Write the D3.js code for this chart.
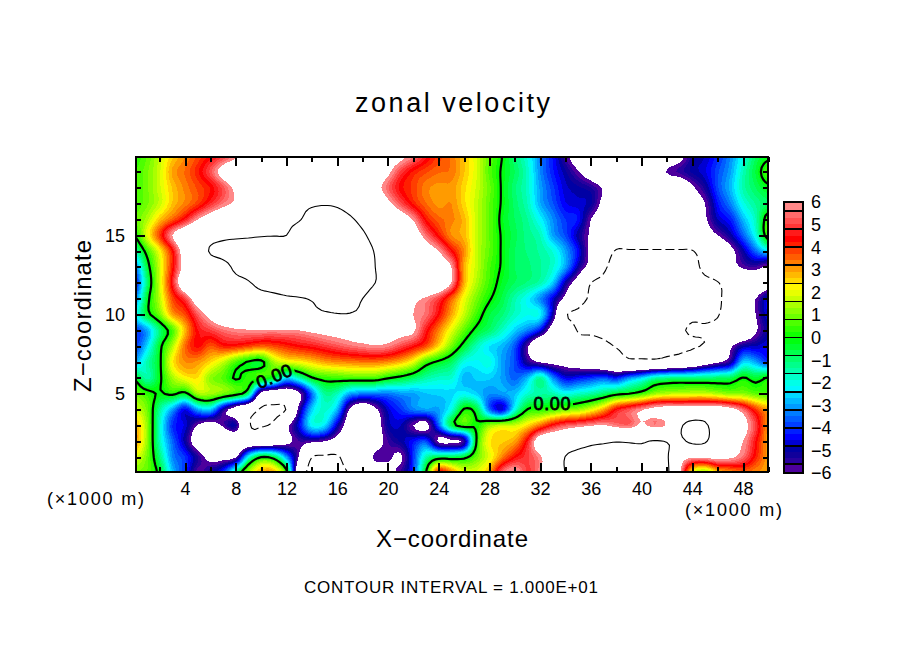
<!DOCTYPE html>
<html><head><meta charset="utf-8">
<script src="https://cdn.jsdelivr.net/npm/d3@7/dist/d3.min.js"></script>
<style>html,body{margin:0;background:#fff}svg{display:block}text{font-family:"Liberation Sans";fill:#000}</style>
</head><body><svg id="c" width="904" height="654"></svg>
<script>
// zonal velocity: one row per Z (x = 0..50 in steps of 1)
const u_z20=[.3,.8,1.7,2.6,3.2,3.8,4.4,5,5.8,6.6,7.2,7.5,7.5,7.5,7.6,7.6,7.6,7.5,7.5,7.4,7,6.4,5.6,4.6,3.9,3.4,2.7,1.9,.8,0,-1,-1.9,-3.3,-4.3,-5.6,-7,-8,-8,-8,-8,-8,-8,-7.5,-6.5,-5.2,-4.8,-4.1,-3.2,-2,-.8,-.2];
const u_z19=[.5,1,1.8,3,3.5,4.2,5.2,6.6,7.5,8,8,8,8,8,8,8,8,8,8,7.5,6.3,5,4.2,3.8,3.5,3.4,2.7,1.9,.7,-.1,-.8,-1.7,-3.2,-4.2,-5,-5.9,-7,-8,-8,-8,-8,-7.5,-5.9,-5.5,-5,-4.6,-3.8,-3,-1.6,-.5,.6];
const u_z18=[.5,1,1.8,2.7,3.3,3.8,4.3,5.2,6.4,8,8.5,8.6,8.7,8.8,9,9.3,9,8.7,8,6.6,5.4,4.4,3.9,3.3,3.1,3.1,2.5,1.8,.9,-.1,-1,-1.7,-3,-3.9,-4.7,-5,-5.3,-6.2,-8,-8,-8,-8,-8,-7.5,-6.2,-5.2,-3.8,-2.8,-1.5,-.8,-.2];
const u_z17=[.5,1,1.7,2.7,3.3,3.9,4.8,5.6,6.3,8,8.6,9,9.3,9.6,9.8,9.9,9.8,9.4,8.8,8,6.4,5.2,4.2,3.5,3.1,3.2,2.5,1.7,.8,-.1,-.9,-1.6,-2.9,-3.7,-4.5,-4.7,-5,-6.5,-8,-8,-8,-8,-8,-8,-7,-6,-4.3,-3.3,-2,-1.3,-.8];
const u_z16=[.8,1.5,2.7,3.6,4.6,6,7,7.8,8.5,9,9.2,9.4,9.7,9.9,10.6,10.8,10.6,10.2,9.6,9,8,7,5.9,4.3,3.6,3.3,2.8,1.7,.8,-.2,-.8,-1.3,-2.2,-3.2,-4,-4.3,-6,-7,-8,-8,-8,-8,-8,-8,-7,-6.2,-4.8,-4.2,-2.8,-1.6,.6];
const u_z15=[0,2,3.9,6,7.5,8.3,9,9.5,9.7,9.8,9.9,9.95,10,10.8,11.2,11.4,11.2,10.8,10.2,9.5,8.8,8,7,5.5,4.3,3.2,2.8,1.7,.8,-.1,-.7,-1.2,-1.6,-3,-3.8,-5,-6.2,-7,-8,-8,-8,-8,-8,-8,-8,-7,-6,-5,-3.6,-2,.6];
const u_z14=[-1.5,.4,2.2,4.3,7,8.5,10.2,10.6,10.8,10.9,11,11,11,11.2,11.4,11.5,11.4,11.2,10.6,9.9,9,8.5,8,7,6,4.5,3.2,1.7,.8,-.1,-.8,-1.1,-1.4,-1.9,-3,-4.4,-6.5,-8.5,-10.2,-10.2,-10.2,-10.2,-10.2,-10.2,-10.1,-9,-8,-6.5,-5,-3.5,-2.4];
const u_z13=[-3.5,-.5,1.8,4.2,6.6,7.8,8.6,9.4,10.3,10.6,10.8,10.9,11,11.2,11.4,11.5,11.5,11.3,10.8,10,9.3,9,8.6,8.2,7.2,6,2.9,1.7,.6,-.1,-.8,-1,-1.3,-1.8,-3,-5,-6.8,-9.5,-10.8,-11,-11,-11,-11,-11,-10.6,-9.5,-8.5,-6.8,-5.8,-5.6,-6.3];
const u_z12=[-4.5,-1,1.8,4.6,7.5,8.5,9,9.4,9.6,9.9,10.4,10.6,10.8,11,11.2,11.3,11.3,11.1,10.6,10,9.4,9.2,8.8,8.4,7.6,6,2.9,1.5,.5,-.3,-.8,-1.1,-1.5,-2.6,-5,-7,-10,-10.6,-11,-11.2,-11.2,-11.2,-11,-10.8,-10.6,-10.4,-10.1,-9,-8,-7.5,-7];
const u_z11=[-3.5,-.4,1.6,3.8,5,7,8,8.6,9,9.2,9.4,9.6,9.8,9.9,10.1,10.5,10.6,10.4,10,9.3,8.7,8,6.5,5.8,5,3.6,2.1,1,.1,-.6,-1.5,-2.2,-3.2,-4.6,-6.5,-9,-10.3,-10.8,-11.2,-11.4,-11.4,-11.4,-11.2,-11,-10.8,-10.5,-10.3,-9,-7,-6,-4.5];
const u_z10=[-2.3,-.4,1,3,3.8,5.3,6.5,7.5,7.8,8,8.2,8.5,8.8,9.1,9.4,9.7,9.9,9.9,9.5,9,8.4,7.5,6,5.5,4.4,3,1.7,.5,-.5,-1,-1.7,-2.1,-2.2,-5,-9.7,-10.4,-10.6,-10.8,-11,-11,-11,-10.9,-10.7,-10.6,-10.3,-10.3,-10.1,-9,-7.5,-6,-4.5];
const u_z9=[-4,-3,-1,.6,2.8,4.5,5,5.5,5.8,5.9,5.9,5.9,5.9,6,6.3,6.6,6.8,7,7.2,7.2,7,6.6,6.2,4.6,3.3,2,.8,-.3,-.9,-1.7,-2.6,-3.3,-4.4,-7,-8,-10.2,-10.4,-10.5,-10.6,-10.6,-10.6,-10.5,-10.4,-10.2,-9.8,-9.8,-9.5,-9,-8,-6.2,-5];
const u_z8=[-4,-2.5,-.3,1.5,3.5,4.4,3.7,4.2,4.2,3.9,3.6,3.8,4.1,4.4,4.6,4.9,5.2,5.5,5.7,5.9,5.7,5.1,4.5,3.8,2.5,1,-.4,-1.6,-2.4,-2.8,-3.7,-5.8,-8,-8,-8.2,-8.5,-8.8,-9.5,-10.1,-10.5,-10.6,-10.6,-10.5,-10.4,-10.2,-9.8,-9,-6.3,-5,-4.8,-4.5];
const u_z7=[-3,-1.5,-.2,2.3,3.2,3.1,2.5,1.7,.6,-.1,-.3,1.4,2,2.2,2.6,3,3.2,3.3,3.4,3.4,3.2,2.8,2,.5,-.2,-.8,-2,-2.2,-2,-3,-3.8,-5.3,-6.1,-6.4,-6.6,-7,-7.5,-8,-8.6,-9.4,-9.4,-9.4,-9,-8.6,-8,-7,-6.2,-5.3,-2.6,-3,-4];
const u_z6=[-.2,-1.5,-.2,1.4,2.2,2.4,1.2,.7,-.1,.4,.4,-.3,-2.5,-1.5,-.1,.4,.5,.6,.6,.6,.1,-.3,-.8,-1.4,-1.7,-1.8,-2.8,-2.6,-2.6,-3,-3.6,-2.8,-1.3,-3.2,-4.5,-4.3,-4,-3.7,-4.2,-3.2,-2.5,-1.5,-1.2,-1.1,-1.1,-1,-.9,-.7,.05,-.4,.1];
const u_z5=[1,.4,-.1,.2,-.3,1.4,1.4,1,.4,-1,-6.6,-7.5,-7.5,-6.3,-3.5,-1.3,-1.6,-3,-3.3,-3.4,-3.4,-3.1,-3,-2.7,-2.6,-2.5,-2.2,-2.6,-3.2,-3,-2.7,-1.8,-1.4,-1.5,-2,-1.7,-1.4,-.9,-.3,0,.5,1.3,1.6,1.7,1.8,1.8,1.5,1.2,1.2,.8,.6];
const u_z4=[1.8,1,-1.3,-3,-4.5,-3,-2.6,-5.2,-7,-8.5,-10.3,-10.5,-9.9,-5.5,-2.6,-1.8,-2.8,-6.2,-7.5,-6.3,-4.7,-4,-3.3,-3,-3,-2,.1,-.5,-3.5,-4.6,-2,.05,.3,.6,1,1.3,2,3,4.5,5.2,5.9,6.5,6.8,7,7.2,7.2,7,6.5,5.5,4,3];
const u_z3=[3,1.3,-1.7,-4,-4.6,-6.1,-6.8,-5.8,-5,-9.7,-10.1,-9.5,-6.5,-4.5,-2.2,-2.4,-4.8,-7,-8,-7,-5,-4.8,-6,-6.5,-3.6,-.6,.5,.1,1.3,1.8,1.8,2.5,3.5,4.6,5.3,5.6,5.9,6.1,5.6,5.4,6.2,5.6,6.2,9.5,10.8,10.5,8,7,6.5,5,3];
const u_z2=[3.2,1.3,-1.6,-3.5,-5,-7,-8,-8.2,-8,-8,-8,-7.6,-6.5,-5.6,-5.7,-6,-6.8,-7.5,-7.8,-6.8,-5.6,-5,-4.3,-3.8,-6.2,-6.3,-5.5,.1,2.3,2.6,3,4.6,7,7.5,8,8.8,9.4,9.7,9.9,9.8,9.7,10.2,9.9,9.5,10.5,10.3,8,6.6,6,4.5,3];
const u_z1=[2,1,-1,-3.2,-4,-5.3,-6.5,-6.5,-6.1,-2,0,-.5,-3,-6.2,-10,-10.4,-10.4,-8,-7,-5.8,-5.8,-6.2,-4,-1.5,-.6,-.6,-.3,.9,2,3.3,4.4,5,5.8,7.5,10.1,10.8,11,11,11,11,11.1,11.2,10.3,7,6.2,6.3,6.5,6.2,5.5,4.2,3];
const u_z0=[1,.8,-.3,-2.7,-4,-5.8,-5,-4,-1,1.5,3,3,.5,-8,-10.8,-11,-10.8,-9.8,-7.5,-7,-6.5,-5.5,-4,0,4.5,3.5,2,2,3,5.5,6.2,5,5.8,8,10.1,11,11.5,12,12,12,12,11.5,10.5,6.4,2,1,2.5,3,3.5,3.2,3];
const rows=[u_z20,u_z19,u_z18,u_z17,u_z16,u_z15,u_z14,u_z13,u_z12,u_z11,u_z10,u_z9,u_z8,u_z7,u_z6,u_z5,u_z4,u_z3,u_z2,u_z1,u_z0];

const xMajor=[4,8,12,16,20,24,28,32,36,40,44,48];
const xMinor=[2,6,10,14,18,22,26,30,34,38,42,46,50];
const zMajor=[5,10,15];
const zMinor=[1,2,3,4,6,7,8,9,11,12,13,14,16,17,18,19];
const barTicks=[6,5,4,3,2,1,0,-1,-2,-3,-4,-5,-6];
const barSeparators=[5.6,4.8,4,3.2,2.4,1.6,.8,0,-.8,-1.6,-2.4,-3.2,-4,-4.8,-5.6];
const stopValues=[-6,-5.6,-5,-4.4,-2.2,0,2.2,4.4,5.6,6];
const stopColors=["#660099","#3300a0","#000099","#0000ff","#00ffff","#00ff00","#ffff00","#ff0000","#ff7777","#ff9999"];
const bandEdges=[-6,...d3.range(0,43).map(i=>-5.6+i*0.8/3),6];

const W={l:136,r:768,t:157,b:472};
const xS=d3.scaleLinear().domain([0,50]).range([134.3,768.4]);
const yS=d3.scaleLinear().domain([0,20]).range([473,156]);
const colorOf=d3.scaleLinear().domain(stopValues).range(stopColors).interpolate(d3.interpolateRgb);
const svg=d3.select("#c");

// Catmull-Rom refinement so that the bands are drawn smoothly
const k=4,nx=50*k+1,nz=20*k+1;
function cr(a,b,c,d,t){return .5*((2*b)+(-a+c)*t+(2*a-5*b+4*c-d)*t*t+(-a+3*b-3*c+d)*t*t*t);}
const at=(i,j)=>rows[Math.max(0,Math.min(20,j))][Math.max(0,Math.min(50,i))];
const field=new Float64Array(nx*nz);
for(let r=0;r<nz;r++)for(let c=0;c<nx;c++){
  const j=Math.min(19,Math.floor(r/k)),tz=r/k-j,i=Math.min(49,Math.floor(c/k)),tx=c/k-i;
  const col=[-1,0,1,2].map(m=>cr(at(i-1,j+m),at(i,j+m),at(i+1,j+m),at(i+2,j+m),tx));
  field[r*nx+c]=cr(col[0],col[1],col[2],col[3],tz);
}
const contours=d3.contours().size([nx,nz]).smooth(true);
const path=d3.geoPath(d3.geoTransform({point(c,r){this.stream.point(xS((c-.5)/k),yS(20-(r-.5)/k));}}));

const defs=svg.append("defs");
defs.append("clipPath").attr("id","plot").append("rect").attr("x",W.l).attr("y",W.t).attr("width",W.r-W.l).attr("height",W.b-W.t);
const labels=[{t:"0.00",x:274,y:376,a:-23,w:42,h:20},{t:"0.00",x:552,y:404,a:0,w:42,h:20}];
const mask=defs.append("mask").attr("id","lab").attr("maskUnits","userSpaceOnUse").attr("x",0).attr("y",0).attr("width",904).attr("height",654);
mask.append("rect").attr("width",904).attr("height",654).attr("fill","#fff");
mask.selectAll("rect.l").data(labels).join("rect").attr("class","l").attr("x",d=>-d.w/2).attr("y",d=>-d.h/2).attr("width",d=>d.w).attr("height",d=>d.h)
  .attr("fill","#000").attr("transform",d=>`translate(${d.x},${d.y}) rotate(${d.a})`);

const plot=svg.append("g").attr("clip-path","url(#plot)");
const bands=d3.pairs(bandEdges).map(([a,b])=>({lo:a,c:colorOf((a+b)/2)}));
plot.selectAll("path.b").data(bands).join("path").attr("class","b")
  .attr("d",d=>path(contours.contour(field,d.lo))).attr("fill",d=>d.c).attr("shape-rendering","crispEdges");
plot.append("path").attr("d",path(contours.contour(field,6))).attr("fill","#fff").attr("shape-rendering","crispEdges");

const lines=plot.append("g").attr("fill","none").attr("stroke","#000");
lines.append("path").attr("d",path(contours.contour(field,10))).attr("stroke-width",1.1);
lines.append("path").attr("d",path(contours.contour(field,-10))).attr("stroke-width",1.1).attr("stroke-dasharray","9 4");
lines.append("path").attr("d",path(contours.contour(field,0))).attr("stroke-width",2.2).attr("mask","url(#lab)");

svg.selectAll("text.cl").data(labels).join("text").attr("class","cl")
  .attr("transform",d=>`translate(${d.x},${d.y}) rotate(${d.a})`).attr("text-anchor","middle").attr("dy","0.36em")
  .attr("font-size",18).attr("stroke","#000").attr("stroke-width",.8).attr("textLength",37).text(d=>d.t);

// axes: ticks point inward on all four sides
function axis(gen,tx,ty,vals,len,showLabels){
  const g=svg.append("g").attr("transform",`translate(${tx},${ty})`)
    .call(gen.tickValues(vals).tickSizeInner(len).tickSizeOuter(0).tickPadding(11).tickFormat(showLabels?d3.format("d"):""));
  g.select(".domain").remove();
  g.selectAll("line").attr("stroke","#000").attr("stroke-width",2).attr("shape-rendering","crispEdges");
  g.selectAll("text").attr("font-size",18).attr("font-family","Liberation Sans").attr("fill","#000");
  return g;
}
axis(d3.axisBottom(xS),0,W.b,xMajor,-9,true).selectAll("text").attr("y",23).attr("dy",0);
axis(d3.axisBottom(xS),0,W.b,xMinor,-5,false);
axis(d3.axisTop(xS),0,W.t,xMajor,-9,false);
axis(d3.axisTop(xS),0,W.t,xMinor,-5,false);
axis(d3.axisLeft(yS),W.l,0,zMajor,-9,true);
axis(d3.axisLeft(yS),W.l,0,zMinor,-5,false);
axis(d3.axisRight(yS),W.r,0,zMajor,-9,false);
axis(d3.axisRight(yS),W.r,0,zMinor,-5,false);
svg.append("rect").attr("x",W.l).attr("y",W.t).attr("width",W.r-W.l).attr("height",W.b-W.t).attr("fill","none").attr("stroke","#000").attr("stroke-width",2.4).attr("shape-rendering","crispEdges");

// colour bar
const bS=d3.scaleLinear().domain([-6,6]).range([473,202]);
const bar=svg.append("g");
bar.selectAll("rect.s").data(d3.pairs(bandEdges)).join("rect").attr("class","s")
  .attr("x",784).attr("width",19).attr("y",d=>bS(d[1])).attr("height",d=>bS(d[0])-bS(d[1])+.5).attr("fill",d=>colorOf((d[0]+d[1])/2)).attr("shape-rendering","crispEdges");
bar.selectAll("line").data(barSeparators).join("line").attr("x1",784).attr("x2",803).attr("y1",d=>bS(d)).attr("y2",d=>bS(d)).attr("stroke","#000").attr("stroke-width",1.6).attr("shape-rendering","crispEdges");
bar.append("rect").attr("x",784).attr("y",202).attr("width",19).attr("height",271).attr("fill","none").attr("stroke","#000").attr("stroke-width",2).attr("shape-rendering","crispEdges");
bar.selectAll("text").data(barTicks).join("text").attr("x",811).attr("y",d=>bS(d)).attr("dy","0.36em").attr("font-size",18).text(d=>d<0?"\u2212"+(-d):d);

// text
function label(s,x,y,size,len,rot){
  const t=svg.append("text").attr("font-size",size).attr("textLength",len).attr("lengthAdjust","spacing").text(s);
  if(rot) t.attr("transform",`translate(${x},${y}) rotate(${rot})`); else t.attr("x",x).attr("y",y);
  return t;
}
label("zonal velocity",355,112,27,195);
label("X\u2212coordinate",376,547,24,152);
label("Z\u2212coordinate",91,392,24,152,-90);
label("(\u00d71000 m)",47,505,18,97);
label("(\u00d71000 m)",685,516,18,97);
label("CONTOUR INTERVAL = 1.000E+01",304,593,17,294);
</script></body></html>
